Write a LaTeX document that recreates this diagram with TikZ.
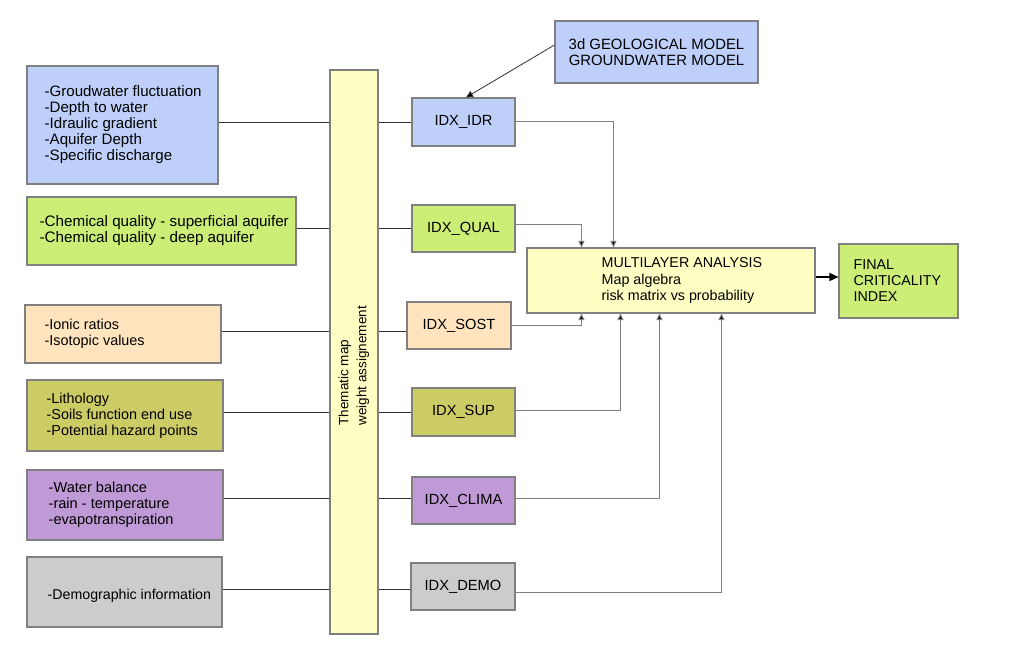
\documentclass[tikz,border=0pt]{standalone}
\usepackage{fontspec}
\setmainfont{Liberation Sans}
\usetikzlibrary{arrows.meta}
\definecolor{cblue}{RGB}{190,208,250}
\definecolor{cgreen}{RGB}{204,238,119}
\definecolor{cpeach}{RGB}{255,228,190}
\definecolor{colive}{RGB}{204,204,102}
\definecolor{cpurple}{RGB}{192,154,214}
\definecolor{cgray}{RGB}{204,204,204}
\definecolor{cyellow}{RGB}{255,255,196}
\definecolor{bordergray}{RGB}{128,128,128}
\definecolor{darkline}{RGB}{50,50,50}
\definecolor{lightline}{RGB}{128,128,128}
\begin{document}
\begin{tikzpicture}[x=1pt,y=-1pt,
  font=\fontsize{14.7}{16}\selectfont,
  box/.style={draw=bordergray, line width=1.1pt, inner sep=0pt},
  txt/.style={inner sep=0pt, align=left, anchor=west},
  lefttxt/.style={txt, font=\fontsize{#1}{16}\selectfont},
  lconn/.style={draw=darkline, line width=1pt},
  rconn/.style={draw=lightline, line width=1pt},
  tip/.style={-{Triangle[length=6.5pt,width=6pt]}, arrows={[fill=black]}}
]
\fill[white] (0,0) rectangle (1024,666);
\useasboundingbox (0,0) rectangle (1024,666);

% left boxes
\node[box, fill=cblue, minimum width=191pt, minimum height=118pt] (b1) at (122.5,125) {};
\node[lefttxt=15.1] (t1) at ([xshift=18pt]b1.west) {-Groudwater fluctuation\\-Depth to water\\-Idraulic gradient\\-Aquifer Depth\\-Specific discharge};
\node[box, fill=cgreen, minimum width=269pt, minimum height=68pt] (b2) at (161.5,231) {};
\node[lefttxt=15.2] (t2) at ([xshift=13pt]b2.west) {-Chemical quality - superficial aquifer\\-Chemical quality - deep aquifer};
\node[box, fill=cpeach, minimum width=196pt, minimum height=58pt] (b3) at (123,334) {};
\node[lefttxt=14.4] (t3) at ([xshift=20pt]b3.west) {-Ionic ratios\\-Isotopic values};
\node[box, fill=colive, minimum width=196pt, minimum height=71pt] (b4) at (125,415.5) {};
\node[lefttxt=14.4] (t4) at ([xshift=20pt]b4.west) {-Lithology\\-Soils function end use\\-Potential hazard points};
\node[box, fill=cpurple, minimum width=196pt, minimum height=70pt] (b5) at (125,505) {};
\node[lefttxt=14.6] (t5) at ([xshift=22pt]b5.west) {-Water balance\\-rain - temperature\\-evapotranspiration};
\node[box, fill=cgray, minimum width=195pt, minimum height=70pt] (b6) at (124.5,592) {};
\node[lefttxt=14.2] (t6) at ([xshift=21pt,yshift=-4pt]b6.west) {-Demographic information};

% bar
\node[box, fill=cyellow, minimum width=48pt, minimum height=564pt] (bar) at (354,352) {};
\node[inner sep=0pt, rotate=90, anchor=west, align=left, font=\fontsize{13.5}{18}\selectfont] (bartext) at ([yshift=209pt]bar.south) {Thematic map\\weight assignement};

% IDX boxes
\node[box, fill=cblue, minimum width=103pt, minimum height=48pt] (idr) at (463.5,122) {IDX\_IDR};
\node[box, fill=cgreen, minimum width=103pt, minimum height=47pt] (qual) at (463.5,228.5) {IDX\_QUAL};
\node[box, fill=cpeach, minimum width=104pt, minimum height=47pt] (sost) at (459,325.5) {IDX\_SOST};
\node[box, fill=colive, minimum width=103pt, minimum height=48pt] (sup) at (463.5,412) {IDX\_SUP};
\node[box, fill=cpurple, minimum width=103pt, minimum height=47pt] (clima) at (463.5,500.5) {IDX\_CLIMA};
\node[box, fill=cgray, minimum width=104pt, minimum height=47pt] (demo) at (463,586.5) {IDX\_DEMO};

% top model box
\node[box, fill=cblue, minimum width=203pt, minimum height=62pt, align=center, font=\fontsize{14.9}{16}\selectfont] (geo) at (656.5,52) {3d GEOLOGICAL MODEL\\GROUNDWATER MODEL};

% multilayer
\node[box, fill=cyellow, minimum width=288pt, minimum height=65pt] (multi) at (671,280.5) {};
\node[txt, font=\fontsize{14.3}{16.5}\selectfont] (tm) at ([xshift=75pt]multi.west) {MULTILAYER ANALYSIS\\Map algebra\\risk matrix vs probability};

% final
\node[box, fill=cgreen, minimum width=119pt, minimum height=74pt] (final) at (898.5,281) {};
\node[txt, font=\fontsize{14.3}{16}\selectfont] (tf) at ([xshift=15pt]final.west) {FINAL\\CRITICALITY\\INDEX};

% left connectors
\coordinate (y1) at (idr.west);
\coordinate (y2) at (qual.west);
\coordinate (y3) at ([yshift=-5.5pt]sost.west);
\coordinate (y4) at (sup.west);
\coordinate (y5) at ([yshift=2.5pt]clima.west);
\coordinate (y6) at ([yshift=-2.5pt]demo.west);
\draw[lconn] (b1.east |- y1) -- (bar.west |- y1);
\draw[lconn] (bar.east |- y1) -- (y1);
\draw[lconn] (b2.east |- y2) -- (bar.west |- y2);
\draw[lconn] (bar.east |- y2) -- (y2);
\draw[lconn] (b3.east |- y3) -- (bar.west |- y3);
\draw[lconn] (bar.east |- y3) -- (y3);
\draw[lconn] (b4.east |- y4) -- (bar.west |- y4);
\draw[lconn] (bar.east |- y4) -- (y4);
\draw[lconn] (b5.east |- y5) -- (bar.west |- y5);
\draw[lconn] (bar.east |- y5) -- (y5);
\draw[lconn] (b6.east |- y6) -- (bar.west |- y6);
\draw[lconn] (bar.east |- y6) -- (y6);

% right connectors
\coordinate (mIDR) at ([xshift=87pt]multi.north west);
\coordinate (mQUAL) at ([xshift=55pt]multi.north west);
\coordinate (mSOST) at ([xshift=55pt]multi.south west);
\coordinate (mSUP) at ([xshift=94pt]multi.south west);
\coordinate (mCLIMA) at ([xshift=133pt]multi.south west);
\coordinate (mDEMO) at ([xshift=195pt]multi.south west);
\draw[rconn, tip] ([yshift=1pt]idr.east) -| (mIDR);
\draw[rconn, tip] ([yshift=4.5pt]qual.east) -| (mQUAL);
\draw[rconn, tip] (sost.east) -| (mSOST);
\draw[rconn, tip] ([yshift=2pt]sup.east) -| (mSUP);
\draw[rconn, tip] ([yshift=2.5pt]clima.east) -| (mCLIMA);
\draw[rconn, tip] ([yshift=-5.5pt]demo.east) -| (mDEMO);

% model to IDR
\draw[draw=darkline, line width=0.8pt, -{Triangle[length=7pt,width=6.5pt]}, arrows={[fill=black]}] ([yshift=7pt]geo.west) -- ([xshift=2.5pt]idr.north);

% multi to final
\draw[black, line width=1.4pt, -{Triangle[length=9pt,width=8pt]}] ([yshift=3.5pt]multi.east) -- ([yshift=4pt]final.west);
\end{tikzpicture}
\end{document}
